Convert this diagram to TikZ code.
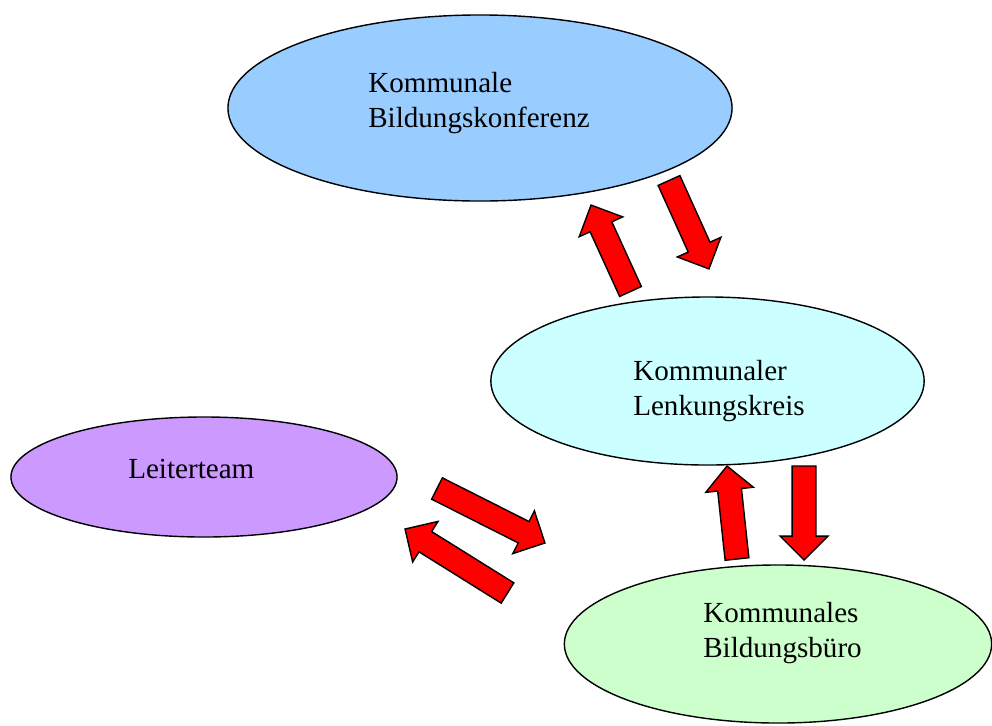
\documentclass[tikz,border=0pt]{standalone}
\usepackage{fontspec}
\setmainfont{Liberation Serif}
\usetikzlibrary{shapes.geometric,calc}
\definecolor{kbkblau}{HTML}{99CCFF}
\definecolor{lkkblau}{HTML}{CCFFFF}
\definecolor{ltlila}{HTML}{CC99FF}
\definecolor{bbgruen}{HTML}{CCFFCC}
\tikzset{
  gremium/.style={ellipse,draw=black,line width=1pt,inner sep=0pt},
  beschriftung/.style={inner sep=0pt,anchor=base west,align=left,font=\fontsize{20.7}{24.5}\selectfont},
  pfeil/.style={draw=black,fill=red,line width=1pt,line join=miter},
}
% block arrow from tail (#1) to tip (#2)
\newcommand{\blockpfeil}[2]{%
  \draw[pfeil] let \p1=($(#2)-(#1)$), \n1={atan2(\y1,\x1)}, \n2={veclen(\x1,\y1)} in
    [shift={(#1)},rotate=\n1]
    (0pt,-8.5pt) -- (\n2-17pt,-8.5pt) -- (\n2-17pt,-17pt) -- (\n2,0pt)
    -- (\n2-17pt,17pt) -- (\n2-17pt,8.5pt) -- (0pt,8.5pt) -- cycle;}

\begin{document}
\begin{tikzpicture}[x=0.025cm,y=-0.025cm]
\useasboundingbox (0,0) rectangle (992,725);
\node[gremium,fill=kbkblau,minimum width=12.6cm,minimum height=4.65cm] (kbk) at (480,108) {};
\node[gremium,fill=lkkblau,minimum width=10.83cm,minimum height=4.2cm] (lkk) at (707.5,381) {};
\node[gremium,fill=ltlila,minimum width=9.65cm,minimum height=3cm] (lt) at (204,477) {};
\node[gremium,fill=bbgruen,minimum width=10.68cm,minimum height=3.95cm] (kbb) at (778,644) {};
% base anchor sits on the last line
\node[beschriftung] (kbktext) at (368,127) {Kommunale\\Bildungskonferenz};
\node[beschriftung] (lkktext) at (633,415) {Kommunaler\\Lenkungskreis};
\node[beschriftung] (lttext) at (128,478) {Leiterteam};
\node[beschriftung] (kbbtext) at (703,657) {Kommunales\\Bildungsbüro};
% arrows
\coordinate (aS) at (630.5,291.5); \coordinate (aT) at (591,205);
\coordinate (bS) at (669,180.5);   \coordinate (bT) at (709,269);
\coordinate (cS) at (437,488.5);   \coordinate (cT) at (545,543);
\coordinate (dS) at (507.5,593);   \coordinate (dT) at (405,529);
\coordinate (eS) at (737,559);     \coordinate (eT) at (727,466);
\coordinate (fS) at (804,466);     \coordinate (fT) at (804,560);
\blockpfeil{aS}{aT}
\blockpfeil{bS}{bT}
\blockpfeil{cS}{cT}
\blockpfeil{dS}{dT}
\blockpfeil{eS}{eT}
\blockpfeil{fS}{fT}
\end{tikzpicture}
\end{document}
